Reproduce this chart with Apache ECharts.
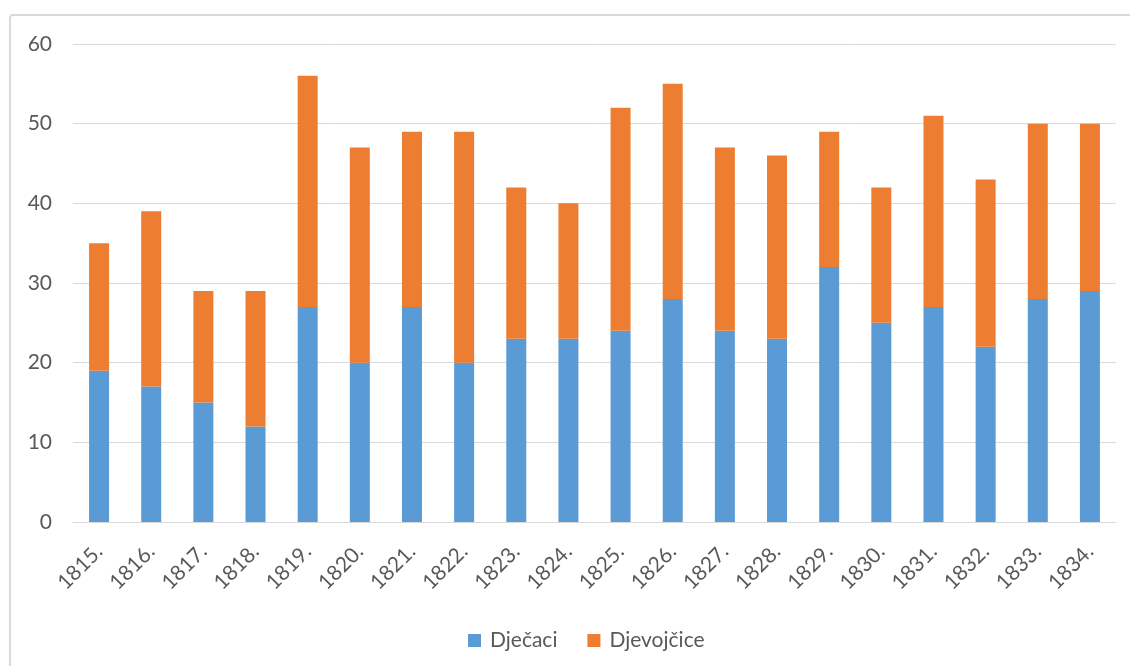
<!DOCTYPE html>
<html>
<head>
<meta charset="utf-8">
<script src="https://cdn.jsdelivr.net/npm/echarts@6/dist/echarts.min.js"></script>
<style>
  html, body { margin: 0; padding: 0; background: #ffffff; }
  #chart { width: 1130px; height: 666px; }
</style>
</head>
<body>
<div id="chart"></div>
<script>
// Godišnji broj rođenih, po spolu
const years = ['1815.', '1816.', '1817.', '1818.', '1819.', '1820.', '1821.', '1822.', '1823.', '1824.',
               '1825.', '1826.', '1827.', '1828.', '1829.', '1830.', '1831.', '1832.', '1833.', '1834.'];
const djecaci = [19, 17, 15, 12, 27, 20, 27, 20, 23, 23, 24, 28, 24, 23, 32, 25, 27, 22, 28, 29];
const djevojcice = [16, 22, 14, 17, 29, 27, 22, 29, 19, 17, 28, 27, 23, 23, 17, 17, 24, 21, 22, 21];
const yTicks = { min: 0, max: 60, interval: 10 };

const textColor = '#595959';
const fontFamily = 'Lato, "Noto Sans", sans-serif';

const chart = echarts.init(document.getElementById('chart'), null, { renderer: 'canvas' });
chart.setOption({
  backgroundColor: '#ffffff',
  animation: false,
  textStyle: { fontFamily: fontFamily },
  graphic: [{
    type: 'rect',
    shape: { x: 10, y: 15, width: 1140, height: 700, r: 3 },
    style: { fill: 'none', stroke: '#d9d9d9', lineWidth: 2 },
    silent: true
  }],
  grid: { left: 73, right: 14, top: 44, bottom: 144 },
  legend: {
    left: 463,
    top: 625,
    itemWidth: 13,
    itemHeight: 13,
    itemGap: 30,
    icon: 'rect',
    textStyle: { color: textColor, fontSize: 21, fontFamily: fontFamily, padding: [0, 0, 0, 4] },
    data: ['Dječaci', 'Djevojčice']
  },
  xAxis: {
    type: 'category',
    data: years,
    axisTick: { show: false },
    axisLine: { lineStyle: { color: '#d9d9d9', width: 1 } },
    axisLabel: { rotate: 45, margin: 26, fontSize: 21, color: textColor, fontFamily: fontFamily, interval: 0 }
  },
  yAxis: {
    type: 'value',
    min: yTicks.min,
    max: yTicks.max,
    interval: yTicks.interval,
    axisLine: { show: false },
    axisTick: { show: false },
    axisLabel: { fontSize: 21, color: textColor, fontFamily: fontFamily, margin: 21 },
    splitLine: { lineStyle: { color: '#d9d9d9', width: 1 } }
  },
  series: [
    {
      name: 'Dječaci',
      type: 'bar',
      stack: 'ukupno',
      barWidth: 20,
      itemStyle: { color: '#5b9bd5' },
      data: djecaci
    },
    {
      name: 'Djevojčice',
      type: 'bar',
      stack: 'ukupno',
      barWidth: 20,
      itemStyle: { color: '#ed7d31' },
      data: djevojcice
    }
  ]
});
</script>
</body>
</html>
